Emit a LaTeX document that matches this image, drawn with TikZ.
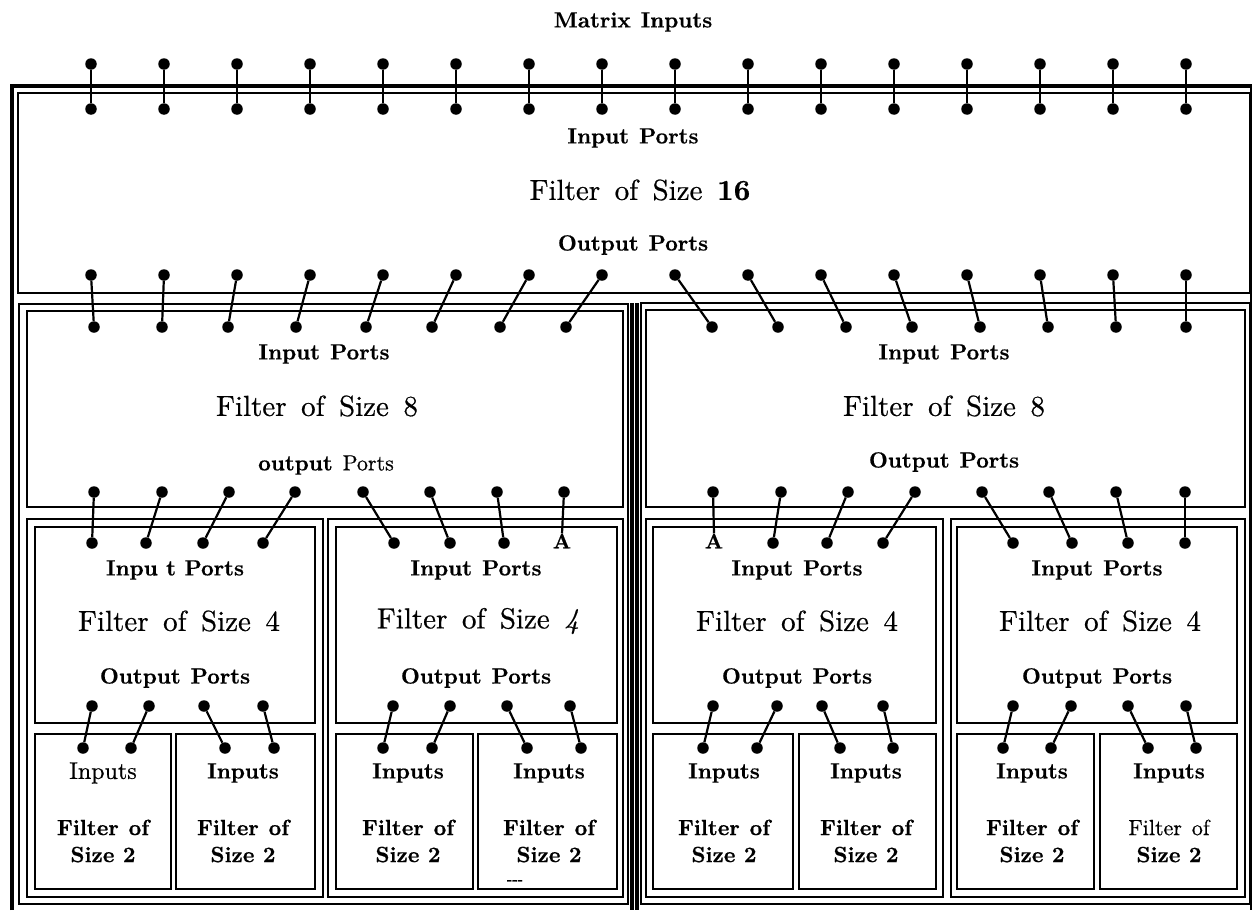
\documentclass[tikz,border=0pt]{standalone}
\usepackage{fontspec}
\setmainfont{lmroman10-regular.otf}[BoldFont=lmroman10-bold.otf,ItalicFont=lmroman10-italic.otf,BoldItalicFont=lmroman10-bolditalic.otf,UprightFeatures={FakeBold=0.6},BoldFeatures={FakeBold=0.6},ItalicFeatures={FakeBold=0.6}]
\newcommand{\wsp}{\hspace{0.5em}}
\newcommand{\bsp}{\hspace{0.45em}}
\begin{document}
\begin{tikzpicture}[x=1pt,y=-1pt,
  port/.style={circle,fill=black,inner sep=0pt,minimum size=11.5pt},
  wire/.style={line width=2.2pt},
  frameline/.style={line width=1.8pt},
  heavyline/.style={line width=4pt},
  lab/.style={font=\fontsize{22}{24}\selectfont\bfseries,inner sep=0pt},
  big/.style={font=\fontsize{29}{32}\selectfont,inner sep=0pt},
  two/.style={font=\fontsize{22}{27}\selectfont\bfseries,align=center,inner sep=0pt}]
\useasboundingbox (0,0) rectangle (1252,910);

% ---------- frames ----------
\draw[heavyline] (12,910) -- (12,86) -- (1252,86);
\draw[frameline] (18,93) rectangle (1250,293);
\draw[frameline] (1251,86) -- (1251,910);
% level 2 frames and boxes
\draw[frameline] (19,304) rectangle (628,904);
\draw[frameline] (641,303) rectangle (1250,904);
\draw[heavyline] (632,303) -- (632,910);
\draw[heavyline] (637,303) -- (637,910);
\draw[frameline] (27,311) rectangle (623,507);
\draw[frameline] (646,310) rectangle (1245,507);
% level 3 frames and boxes
\draw[frameline] (27,519) rectangle (323,897);
\draw[frameline] (328,519) rectangle (623,897);
\draw[frameline] (646,519) rectangle (943,897);
\draw[frameline] (951,519) rectangle (1245,897);
\draw[frameline] (35,527) rectangle (315,723);
\draw[frameline] (336,527) rectangle (617,723);
\draw[frameline] (653,527) rectangle (936,723);
\draw[frameline] (957,527) rectangle (1237,723);
% level 4 boxes
\foreach \xl/\xr in {35/171,176/315,336/473,478/617,653/793,799/936,957/1094,1100/1237}
  \draw[frameline] (\xl,734) rectangle (\xr,889);

% ---------- texts ----------
\node[lab] (mi) at (633,22) {Matrix\bsp Inputs};
\node[lab] (ip16) at (633,138) {Input\bsp Ports};
\node[big] (f16) at (640,190) {Filter\wsp of\wsp Size\wsp \textbf{16}};
\node[lab] (op16) at (633,245) {Output\bsp Ports};

\node[lab] (ip8a) at (324,354) {Input\bsp Ports};
\node[big] (f8a) at (317,406) {Filter\wsp of\wsp Size\wsp 8};
\node[lab] (op8a) at (326,465) {output\bsp \mdseries Ports};
\node[lab] (ip8b) at (944,354) {Input\bsp Ports};
\node[big] (f8b) at (944,406) {Filter\wsp of\wsp Size\wsp 8};
\node[lab] (op8b) at (944,462) {Output\bsp Ports};

\node[lab] (ip4a) at (175,570) {Inpu t Ports};
\node[big] (f4a) at (179,621) {Filter\wsp of\wsp Size\wsp 4};
\node[lab] (op4a) at (175,678) {Output\bsp Ports};
\node[lab] (ip4b) at (476,570) {Input\bsp Ports};
\node[big] (f4b) at (478,621) {Filter\wsp of\wsp Size\wsp \textit{4}};
\node[lab] (op4b) at (476,678) {Output\bsp Ports};
\node[lab] (ip4c) at (797,570) {Input\bsp Ports};
\node[big] (f4c) at (797,621) {Filter\wsp of\wsp Size\wsp 4};
\node[lab] (op4c) at (797,678) {Output\bsp Ports};
\node[lab] (ip4d) at (1097,570) {Input\bsp Ports};
\node[big] (f4d) at (1100,621) {Filter\wsp of\wsp Size\wsp 4};
\node[lab] (op4d) at (1097,678) {Output\bsp Ports};

\node[lab,font=\fontsize{24}{26}\selectfont] (in1) at (103,773) {Inputs};
\node[two] (f21) at (103,841) {Filter\bsp of\\Size 2};
\foreach \cx [count=\k from 2] in {243,408,549,724,866,1032}{
  \node[lab] (in\k) at (\cx,773) {Inputs};
  \node[two] (f2\k) at (\cx,841) {Filter\bsp of\\Size 2};
}
\node[lab] (in8) at (1169,773) {Inputs};
\node[two] (f28) at (1169,841) {\mdseries Filter\bsp of\\\bfseries Size 2};
\node[font=\fontsize{14}{14}\selectfont\bfseries,inner sep=0pt] (dd) at (515,882) {-{}-{}-};

% ---------- level 1: matrix inputs -> input ports ----------
\foreach \i in {0,...,15}{
  \pgfmathsetmacro{\xx}{91+73*\i}
  \node[port] (t\i) at (\xx,64) {};
  \node[port] (b\i) at (\xx,109) {};
  \draw[wire] (t\i) -- (b\i);
}

% ---------- level 1 outputs -> level 2 inputs ----------
\foreach \xb [count=\k from 0] in {94,162,228,296,366,432,500,566,712,778,846,912,980,1048,1116,1186}{
  \pgfmathsetmacro{\xa}{91+73*\k}
  \node[port] (o1\k) at (\xa,275) {};
  \node[port] (i2\k) at (\xb,327) {};
  \draw[wire] (o1\k) -- (i2\k);
}

% ---------- level 2 outputs -> level 3 inputs ----------
\foreach \xa/\xb [count=\k] in {94/92,162/146,229/203,295/263,363/394,430/450,497/504,
                                781/773,848/827,915/883,982/1013,1049/1072,1116/1128,1185/1185}{
  \node[port] (o2\k) at (\xa,492) {};
  \node[port] (i3\k) at (\xb,543) {};
  \draw[wire] (o2\k) -- (i3\k);
}
\node[port] (o2a) at (564,492) {};
\node[lab,font=\fontsize{21}{21}\selectfont\bfseries] (Aa) at (562,541) {A};
\draw[wire] (o2a) -- (Aa.north);
\node[port] (o2b) at (713,492) {};
\node[lab,font=\fontsize{21}{21}\selectfont\bfseries] (Ab) at (714,541) {A};
\draw[wire] (o2b) -- (Ab.north);

% ---------- level 3 outputs -> level 4 inputs ----------
\foreach \xa/\xb [count=\k] in {92/83,149/131,204/225,263/274,393/383,450/432,507/527,570/581,
                                713/703,777/757,822/840,883/893,1013/1003,1071/1051,1128/1148,1186/1196}{
  \node[port] (o3\k) at (\xa,706) {};
  \node[port] (i4\k) at (\xb,748) {};
  \draw[wire] (o3\k) -- (i4\k);
}
\end{tikzpicture}
\end{document}
